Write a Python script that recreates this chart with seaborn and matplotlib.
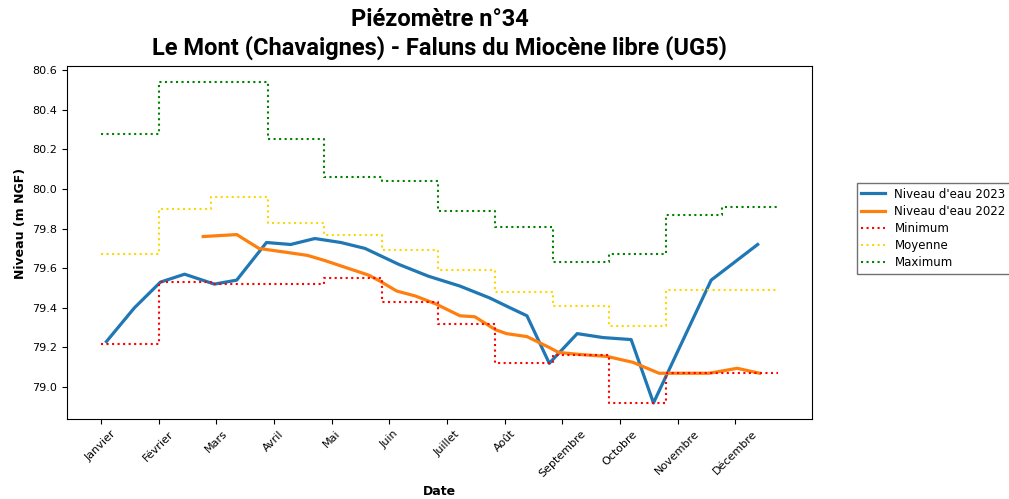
import matplotlib
matplotlib.use("Agg")
import matplotlib.pyplot as plt
import seaborn as sns
import pandas as pd
import numpy as np

# --- Data -------------------------------------------------------------
mois = ["Janvier", "Février", "Mars", "Avril", "Mai", "Juin", "Juillet",
        "Août", "Septembre", "Octobre", "Novembre", "Décembre"]
tick_days = list(range(1, 366, 31))
debut_mois = [1, 32, 60, 91, 121, 152, 182, 213, 244, 274, 305, 335]
fin_annee = 365

minimum = [79.22, 79.53, 79.52, 79.52, 79.55, 79.43, 79.32, 79.12, 79.16, 78.92, 79.07, 79.07]
moyenne = [79.67, 79.90, 79.96, 79.83, 79.77, 79.69, 79.59, 79.48, 79.41, 79.31, 79.49, 79.49]
maximum = [80.28, 80.54, 80.54, 80.25, 80.06, 80.04, 79.89, 79.81, 79.63, 79.67, 79.87, 79.91]

jours_2023 = [4, 19, 33, 46, 62, 74, 90, 103, 116, 130, 143, 161, 177, 194,
              210, 221, 230, 242, 257, 271, 286, 298, 329, 354]
niveau_2023 = [79.23, 79.40, 79.53, 79.57, 79.52, 79.54, 79.73, 79.72, 79.75,
               79.73, 79.70, 79.62, 79.56, 79.51, 79.45, 79.40, 79.36, 79.12,
               79.27, 79.25, 79.24, 78.92, 79.54, 79.72]

jours_2022 = [56, 74, 86, 101, 112, 121, 145, 151, 160, 170, 181, 194, 202,
              213, 219, 230, 242, 247, 258, 273, 287, 301, 328, 343, 355]
niveau_2022 = [79.76, 79.77, 79.70, 79.68, 79.665, 79.64, 79.565, 79.535,
               79.485, 79.46, 79.42, 79.36, 79.355, 79.29, 79.27, 79.255,
               79.20, 79.175, 79.165, 79.155, 79.125, 79.07, 79.07, 79.095,
               79.07]

# --- Figure -----------------------------------------------------------
fig = plt.figure(figsize=(10.09, 4.99), dpi=100)
ax = fig.add_axes([67 / 1009, 1 - 419 / 499, 745 / 1009, 353 / 499])

sns.lineplot(x=jours_2023, y=niveau_2023, ax=ax, color="#1f77b4",
             linewidth=2.3, label="Niveau d'eau 2023")
sns.lineplot(x=jours_2022, y=niveau_2022, ax=ax, color="#ff7f0e",
             linewidth=2.3, label="Niveau d'eau 2022")

step_x = debut_mois + [fin_annee]
for vals, col, lab in [(minimum, "red", "Minimum"),
                       (moyenne, "gold", "Moyenne"),
                       (maximum, "green", "Maximum")]:
    sns.lineplot(x=step_x, y=vals + [vals[-1]], ax=ax, color=col,
                 linestyle=":", linewidth=1.5, drawstyle="steps-post",
                 label=lab)

ax.set_xticks(tick_days)
ax.set_xticklabels(mois, rotation=45, fontsize=8)
ax.tick_params(axis="y", labelsize=8)
ax.set_xlabel("Date", fontsize=9, fontweight="bold")
ax.set_ylabel("Niveau (m NGF)", fontsize=9, fontweight="bold")
ax.yaxis.set_label_coords(-0.054, 0.554)

fig.text(439.5 / 1009, 1 - 20 / 499, "Piézomètre n°34", ha="center",
         va="center", fontsize=17, fontweight="bold", family="Roboto")
fig.text(439.5 / 1009, 1 - 48 / 499,
         "Le Mont (Chavaignes) - Faluns du Miocène libre (UG5)", ha="center",
         va="center", fontsize=17, fontweight="bold", family="Roboto")

ax.legend(loc="upper left", bbox_to_anchor=(1.06, 0.669), borderaxespad=0,
          fontsize=8.5, labelspacing=0.35, frameon=True, fancybox=False,
          edgecolor="0.3")

fig.savefig("out.png", dpi=100)
